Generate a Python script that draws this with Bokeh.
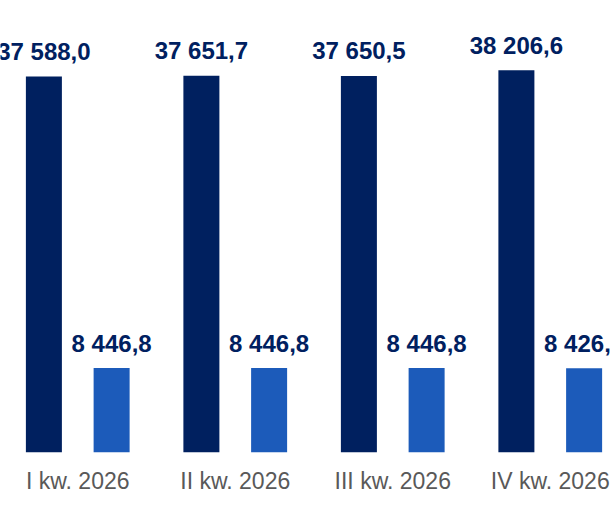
from bokeh.plotting import figure
from bokeh.models import ColumnDataSource, Range1d, FixedTicker
from bokeh.core.properties import value
from bokeh.embed import file_html
from bokeh.resources import INLINE

categories = ["I kw. 2026", "II kw. 2026", "III kw. 2026", "IV kw. 2026"]
series_a = [37588.0, 37651.7, 37650.5, 38206.6]
series_b = [8446.8, 8446.8, 8446.8, 8426.8]


def fmt(v):
    return f"{v:,.1f}".replace(",", " ").replace(".", ",")


xs = list(range(len(categories)))
off = 0.215
src_a = ColumnDataSource(dict(x=[i - off for i in xs], top=series_a,
                              lab=[fmt(v) for v in series_a]))
src_b = ColumnDataSource(dict(x=[i + off for i in xs], top=series_b,
                              lab=[fmt(v) for v in series_b]))

p = figure(width=610, height=530, output_backend="svg", toolbar_location=None,
           x_range=Range1d(-0.4905, 3.3825), y_range=Range1d(0, 45186),
           min_border_left=0, min_border_right=0, min_border_top=0,
           min_border_bottom=78)

dark = "#00205F"
light = "#1C5BBA"
w = 0.2286
p.vbar(x="x", top="top", width=w, source=src_a, color=dark, line_color=None)
p.vbar(x="x", top="top", width=w, source=src_b, color=light, line_color=None)

for src in (src_a, src_b):
    p.text(x="x", y="top", text="lab", source=src, text_align="center",
           text_baseline="alphabetic", y_offset=-25,
           text_font=value("Liberation Sans"),
           text_font_style="bold",
           text_font_size="24px", text_color="#002060")

p.yaxis.visible = False
p.xgrid.visible = False
p.ygrid.visible = False
p.outline_line_color = None

ax = p.xaxis[0]
ax.ticker = FixedTicker(ticks=xs)
ax.major_label_overrides = {i: c for i, c in zip(xs, categories)}
ax.axis_line_color = None
ax.major_tick_line_color = None
ax.minor_tick_line_color = None
ax.major_label_text_font = "Liberation Sans"
ax.major_label_text_font_size = "23px"
ax.major_label_text_color = "#595959"
ax.major_label_standoff = 9

open("out.html", "w").write(file_html(p, INLINE))
